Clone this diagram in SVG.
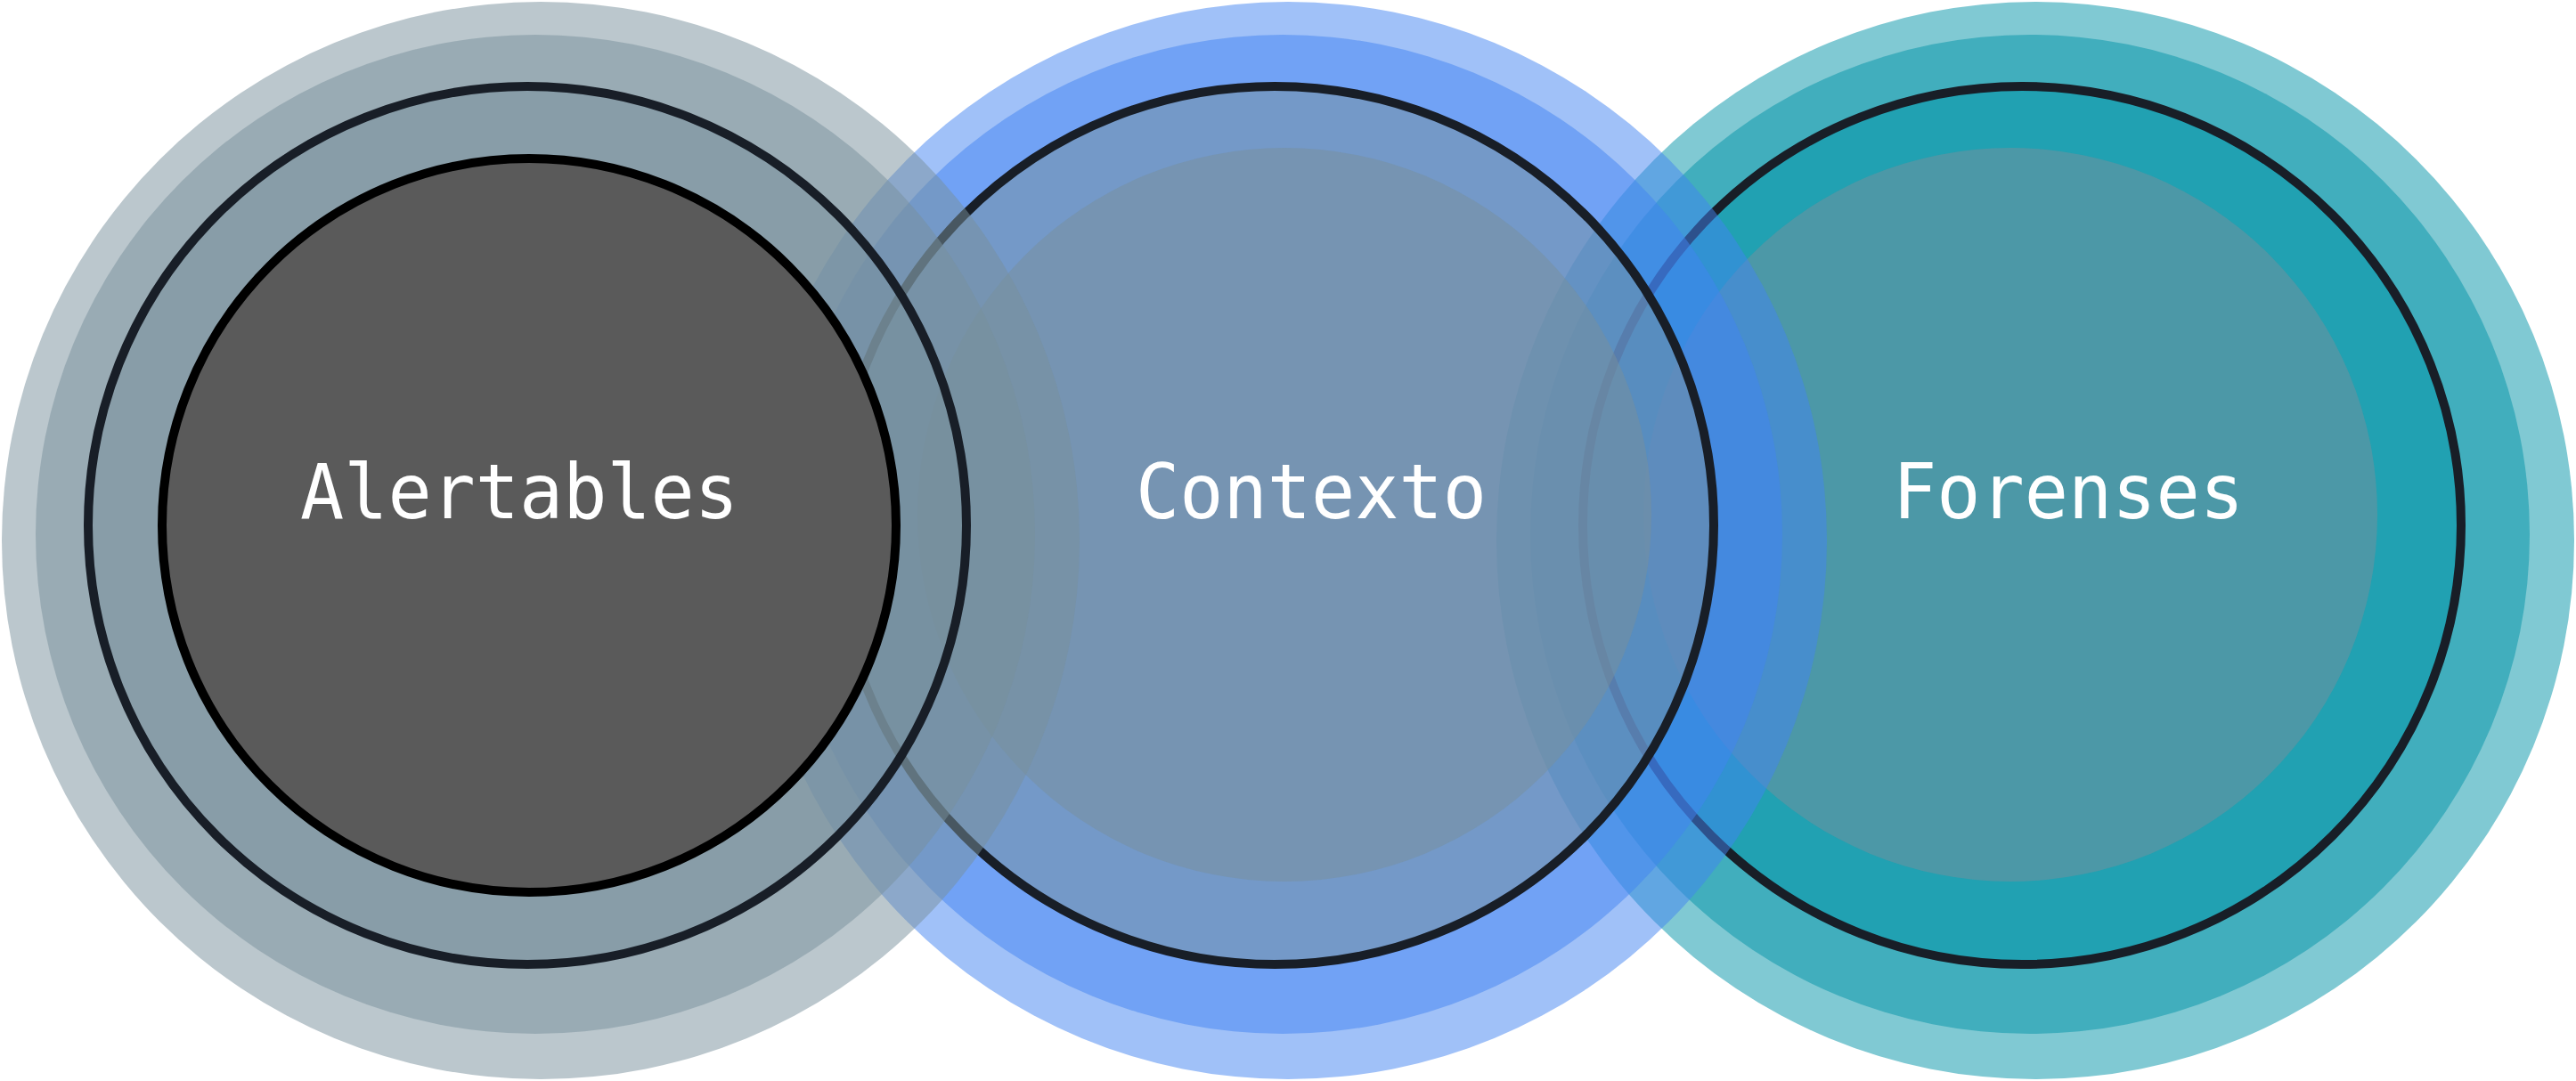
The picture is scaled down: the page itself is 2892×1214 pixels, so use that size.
<svg xmlns="http://www.w3.org/2000/svg" width="2892" height="1214" viewBox="0 0 2892 1214">
<style>
.slate{fill:#788f9b;fill-opacity:.5}
.blue{fill:#4183f2;fill-opacity:.5}
.teal{fill:#0293a8;fill-opacity:.5}
.core{stroke:#181e27;stroke-width:10}
.sel{fill:#5a5a5a;stroke:#000;stroke-width:10}
.label{font-family:"DejaVu Sans Mono","Liberation Mono",monospace;font-size:86px;fill:#ffffff;text-anchor:middle}
</style>
<rect width="2892" height="1214" fill="#ffffff"/>
<g id="node-forenses">
<circle class="teal" cx="2285" cy="607" r="605"/>
<circle class="teal" cx="2279" cy="600" r="561"/>
<circle class="teal core" cx="2270" cy="590" r="493"/>
<circle class="slate" cx="2257" cy="578" r="412"/>
<text class="label" x="2322" y="582" textLength="394" lengthAdjust="spacingAndGlyphs">Forenses</text>
</g>
<g id="node-contexto">
<circle class="blue" cx="1446" cy="607" r="605"/>
<circle class="blue" cx="1440" cy="600" r="561"/>
<circle class="slate core" cx="1431" cy="590" r="493"/>
<circle class="slate" cx="1442" cy="578" r="412"/>
<text class="label" x="1472" y="582" textLength="394" lengthAdjust="spacingAndGlyphs">Contexto</text>
</g>
<g id="node-alertables">
<circle class="slate" cx="607" cy="607" r="605"/>
<circle class="slate" cx="601" cy="600" r="561"/>
<circle class="slate core" cx="592" cy="590" r="493"/>
<circle class="sel" cx="594" cy="590" r="412"/>
<text class="label" x="583" y="582" textLength="492" lengthAdjust="spacingAndGlyphs">Alertables</text>
</g>
<g id="connectors"/>
</svg>
